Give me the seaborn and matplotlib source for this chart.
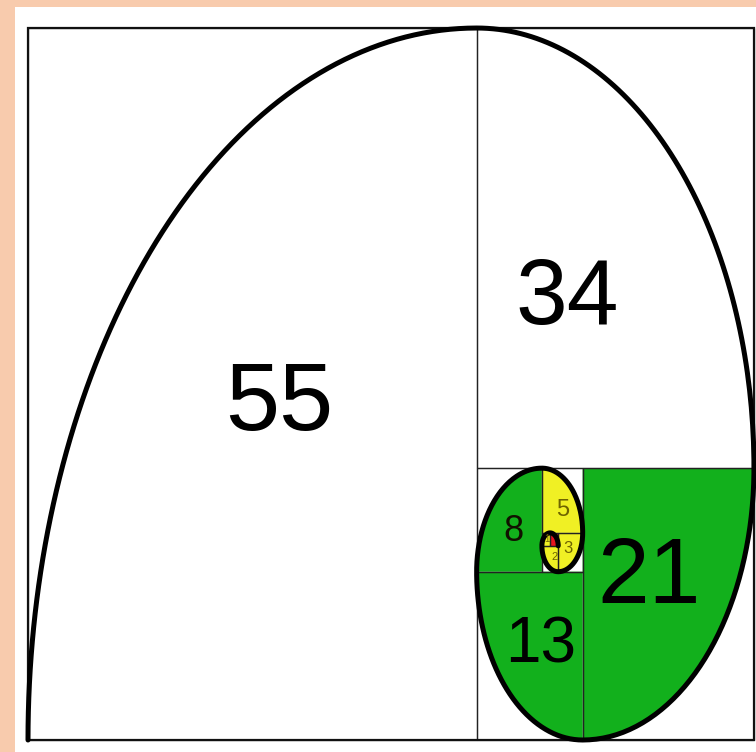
import numpy as np
import pandas as pd
import matplotlib
matplotlib.use("Agg")
import matplotlib.pyplot as plt
from matplotlib.patches import Rectangle
import seaborn as sns

# Fibonacci squares, largest first
sizes = [55, 34, 21, 13, 8, 5, 3, 2, 1, 1]
labels = ["55", "34", "21", "13", "8", "5", "3", "2", "1", ""]
fills = [None, None, "#12B01C", "#12B01C", "#12B01C", "#F0F024", "#F0F024", "#F0F024", "#F0F024", "#E8141E"]
label_colors = ["black", "black", "black", "black", "#111100", "#6E6400", "#6E6400", "#6E6400", "#6E6400", "black"]
label_sizes = [70, 67, 67, 46, 26, 17, 12, 8, 7, 7]
# label offsets from square centre (in square units), purely layout
label_offsets = [(3.3, -1.6), (-5.9, -4.0), (-2.4, 1.9), (1.4, 0.8), (0.5, -0.9), (0.0, -0.7), (-0.3, 0.3), (0.5, 0.1), (0.1, 0.0), (0, 0)]

sns.set_theme(style="white")
plt.rcParams["font.family"] = ["Liberation Sans", "DejaVu Sans"]

fig = plt.figure(figsize=(7.56, 7.52), dpi=100, facecolor="#F8CBAD")
ax = fig.add_axes([15 / 756, 0, 741 / 756, 745 / 752])
ax.set_facecolor("white")

# lay the squares out by cutting the remaining rectangle left/top/right/bottom
x0, x1, y0, y1 = 0.0, float(sizes[0] + sizes[1]), 0.0, float(sizes[0])
squares = []
for i, s in enumerate(sizes):
    side = ["left", "top", "right", "bottom"][i % 4]
    if side == "left":
        sq = (x0, y0, s); cx, cy, a0 = x0 + s, y0, 180; x0 += s
    elif side == "top":
        sq = (x0, y1 - s, s); cx, cy, a0 = x0, y1 - s, 90; y1 -= s
    elif side == "right":
        sq = (x1 - s, y0, s); cx, cy, a0 = x1 - s, y0 + s, 0; x1 -= s
    else:
        sq = (x0, y0, s); cx, cy, a0 = x0 + s, y0 + s, -90; y0 += s
    squares.append((sq, cx, cy, a0))

spiral = []
for i, ((sx, sy, s), cx, cy, a0) in enumerate(squares):
    t = np.radians(np.linspace(a0, a0 - 90, 80))
    ax_, ay_ = cx + s * np.cos(t), cy + s * np.sin(t)
    if fills[i] is not None:
        if s == 1:
            ax.add_patch(Rectangle((sx, sy), s, s, facecolor=fills[i], edgecolor="none", zorder=1))
        else:
            ax.fill(np.r_[cx, ax_, cx], np.r_[cy, ay_, cy], color=fills[i], lw=0, zorder=1)
    ax.add_patch(Rectangle((sx, sy), s, s, facecolor="none", edgecolor="#222222", lw=0.9, zorder=2))
    spiral.append(pd.DataFrame({"x": ax_, "y": ay_}))
    if labels[i]:
        dx, dy = label_offsets[i]
        ax.text(sx + s / 2 + dx, sy + s / 2 + dy, labels[i], color=label_colors[i],
                fontsize=label_sizes[i], ha="center", va="center", zorder=4)

# outer frame
ax.add_patch(Rectangle((0, 0), sizes[0] + sizes[1], sizes[0], facecolor="none",
                       edgecolor="#111111", lw=1.6, zorder=2))

df = pd.concat(spiral, ignore_index=True)
sns.lineplot(data=df, x="x", y="y", sort=False, estimator=None, color="black", lw=3.6, ax=ax, zorder=3)

ax.set_xlim(-13 / 8.157, 728 / 8.157)
ax.set_ylim(-12 / 12.945, 733 / 12.945)
ax.set_xticks([])
ax.set_yticks([])
ax.set_xlabel("")
ax.set_ylabel("")
for sp in ax.spines.values():
    sp.set_visible(False)

fig.savefig("out.png", dpi=100, facecolor=fig.get_facecolor())
